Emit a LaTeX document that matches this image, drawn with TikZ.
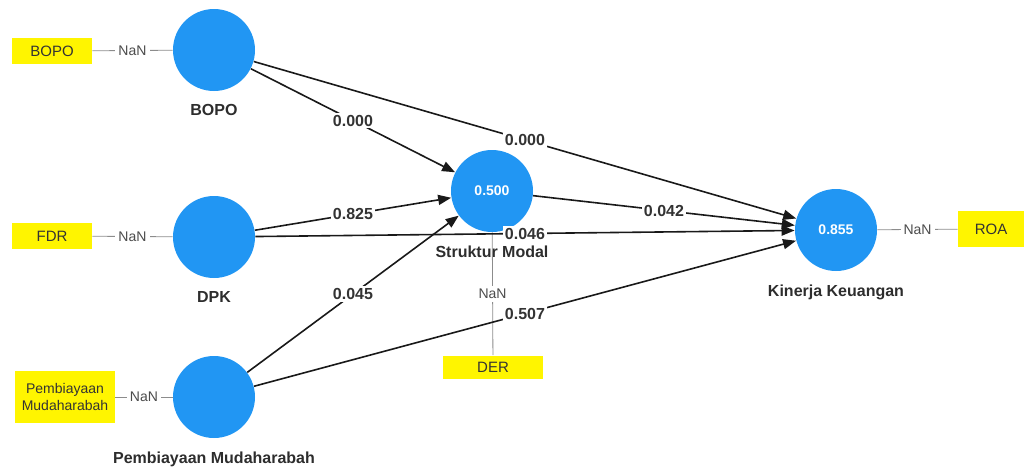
\documentclass[tikz,border=0pt]{standalone}
\usepackage{fontspec}
\setmainfont{Liberation Sans}
\usetikzlibrary{
  arrows.meta,
  positioning
}
\definecolor{latent}{RGB}{33,150,243}
\definecolor{indic}{RGB}{255,245,0}
\definecolor{labeltext}{RGB}{45,45,45}

\begin{document}
\begin{tikzpicture}[
  x=0.5pt, y=-0.5pt,
  lv/.style={circle, fill=latent, minimum size=41pt, inner sep=0pt,
             font=\fontsize{7}{8}\selectfont\bfseries, text=white},
  ind/.style={fill=indic, minimum width=40pt, minimum height=13pt, inner sep=1pt,
              align=center, font=\fontsize{7.5}{8.5}\selectfont, text=black!80},
  lvname/.style={font=\fontsize{8}{9}\selectfont\bfseries, text=labeltext},
  pathc/.style={draw=black!90, line width=0.8pt, -{Triangle[length=6.5pt,width=5pt]}},
  meas/.style={draw=black!45, line width=0.4pt},
  coef/.style={fill=white, inner sep=1pt, font=\fontsize{8}{9}\selectfont\bfseries, text=black!80},
  nan/.style={fill=white, inner sep=1.5pt, font=\fontsize{7}{8}\selectfont, text=black!70}
]
\useasboundingbox (0,0) rectangle (1027,467);

% latent variables
\node[lv] (bopo) at (214, 50)  {};
\node[lv] (dpk)  at (214, 237) {};
\node[lv] (pm)   at (214, 397) {};
\node[lv] (sm)   at (492, 191) {0.500};
\node[lv] (kk)   at (836, 230) {0.855};

\node[lvname, below=3pt] (bopo-name) at (bopo.south) {BOPO};
\node[lvname, below=3pt] (dpk-name)  at (dpk.south)  {DPK};
\node[lvname, below=3pt] (pm-name)   at (pm.south)   {Pembiayaan Mudaharabah};
\node[lvname, below=3pt] (sm-name)   at (sm.south)   {Struktur Modal};
\node[lvname, below=3pt] (kk-name)   at (kk.south)   {Kinerja Keuangan};

% indicators
\node[ind] (bopo-ind) at (52, 51)  {BOPO};
\node[ind] (fdr-ind)  at (52, 236) {FDR};
\node[ind, minimum width=50pt, minimum height=26pt,
      font=\fontsize{7}{8.5}\selectfont] (pm-ind) at (65, 397) {Pembiayaan\\Mudaharabah};
\node[ind, minimum width=50pt, minimum height=11.5pt] (der-ind) at (493, 367) {DER};
\node[ind, minimum width=33pt, minimum height=18pt] (roa-ind) at (991, 229) {ROA};

\draw[meas] (bopo-ind) -- node[nan] (bopo-nan) {NaN} (bopo);
\draw[meas] (fdr-ind)  -- node[nan] (fdr-nan)  {NaN} (dpk);
\draw[meas] (pm-ind)   -- node[nan] (pm-nan)   {NaN} (pm);
\draw[meas] (sm)       -- node[nan] (der-nan)  {NaN} (der-ind);
\draw[meas] (kk)       -- node[nan] (roa-nan)  {NaN} (roa-ind);

% structural paths
\draw[pathc] (bopo) -- node[coef] (c1) {0.000} (sm);
\draw[pathc] (bopo) -- node[coef] (c2) {0.000} (kk);
\draw[pathc] (dpk)  -- node[coef] (c3) {0.825} (sm);
\draw[pathc] (dpk)  -- node[coef] (c4) {0.046} (kk);
\draw[pathc] (pm)   -- node[coef] (c5) {0.045} (sm);
\draw[pathc] (pm)   -- node[coef] (c6) {0.507} (kk);
\draw[pathc] (sm)   -- node[coef] (c7) {0.042} (kk);

\end{tikzpicture}
\end{document}
